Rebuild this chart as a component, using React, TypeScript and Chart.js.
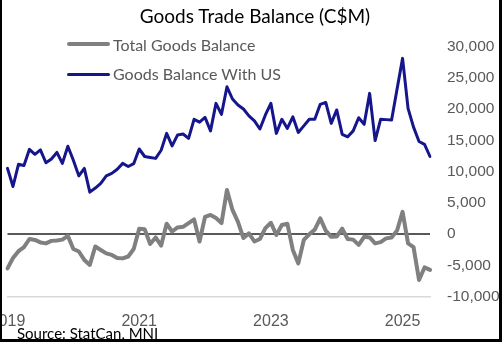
import React, { useEffect, useRef } from 'react';
import { Chart, registerables } from 'chart.js';

Chart.register(...registerables);

// Monthly data, Jan 2019 – Jun 2025 (C$ millions)
const START_YEAR = 2019;
const MONTH_COUNT = 78;

const totalGoodsBalance = [
  -5500, -3850, -2750, -2100, -800, -950, -1350, -1500, -1100, -1050, -900, -300,
  -2400, -2800, -4150, -4950, -2000, -2550, -3100, -3350, -3850, -3900, -3600, -2400,
  850, 750, -1600, -550, -1850, 1650, 400, 1050, 1150, 1750, 2350, -1200,
  2750, 3050, 2550, 1750, 7050, 3850, 1950, -650, 100, -1200, -800, 950,
  1800, -150, 1450, 1650, -2550, -4700, -950, -50, 700, 2500, 550, -450,
  -400, 850, -800, -900, -1750, -450, -550, -1500, -1300, -700, -550, 550,
  3550, -1500, -2100, -7350, -5350, -5750,
];

const goodsBalanceWithUS = [
  10500, 7600, 11150, 10950, 13550, 12750, 13450, 11400, 12000, 13050, 11300, 14050,
  11800, 9300, 10500, 6700, 7350, 8100, 9300, 9700, 10350, 11300, 10800, 11250,
  13600, 12400, 12250, 12100, 13400, 16100, 14100, 15850, 16000, 15300, 18350, 17900,
  18650, 16500, 20900, 19150, 23550, 21600, 20650, 20000, 18900, 18100, 16800, 19050,
  20900, 16100, 18350, 16900, 18750, 16250, 17300, 18350, 18350, 20750, 21050, 17700,
  19850, 15950, 15550, 16500, 18600, 17550, 22500, 14950, 18350, 18300, 18250, 23200,
  28100, 20100, 17100, 14800, 14350, 12400,
];

const monthLabels = Array.from({ length: MONTH_COUNT }, (_, i) =>
  `${START_YEAR + Math.floor(i / 12)}-${String((i % 12) + 1).padStart(2, '0')}`
);
const yearTickEvery = 24; // show a year label every two years (January)

const Y_MIN = -10000;
const Y_MAX = 30000;
const Y_STEP = 5000;

const TITLE = 'Goods Trade Balance (C$M)';
const SERIES_NAMES = ['Total Goods Balance', 'Goods Balance With US'];
const SOURCE = 'Source: StatCan, MNI';

const GRAY = '#808080';
const NAVY = '#16168C';
const TEXT_GRAY = '#595959';
const UI_FONT = 'Lato, "Open Sans", sans-serif';

export default function App() {
  const canvasRef = useRef<HTMLCanvasElement | null>(null);

  useEffect(() => {
    document.body.style.margin = '0';
    const canvas = canvasRef.current;
    if (!canvas) return;
    const chart = new Chart(canvas, {
      type: 'line',
      data: {
        labels: monthLabels,
        datasets: [
          {
            label: SERIES_NAMES[0],
            data: totalGoodsBalance,
            borderColor: GRAY,
            borderWidth: 4,
            pointRadius: 0,
            tension: 0,
            borderJoinStyle: 'round',
            borderCapStyle: 'round',
          },
          {
            label: SERIES_NAMES[1],
            data: goodsBalanceWithUS,
            borderColor: NAVY,
            borderWidth: 3,
            pointRadius: 0,
            tension: 0,
            borderJoinStyle: 'round',
            borderCapStyle: 'round',
          },
        ],
      },
      options: {
        animation: false,
        responsive: false,
        maintainAspectRatio: false,
        layout: { padding: { left: 47.5, right: 0, top: 46.5, bottom: 0 } },
        plugins: {
          legend: { display: false },
          title: { display: false },
          tooltip: { enabled: false },
        },
        scales: {
          x: {
            type: 'category',
            offset: false,
            grid: { display: true, color: 'transparent', drawTicks: false },
            border: { display: true, color: '#D9D9D9', width: 1.5 },
            ticks: {
              autoSkip: false,
              maxRotation: 0,
              minRotation: 0,
              padding: 15,
              color: TEXT_GRAY,
              font: { family: '"Liberation Sans", Arial, sans-serif', size: 16 },
              callback: (_v: any, idx: number) =>
                idx % yearTickEvery === 0 ? monthLabels[idx].slice(0, 4) : '',
            },
            afterFit: (s: any) => {
              s.height = 45.5;
            },
          },
          y: {
            position: 'right',
            min: Y_MIN,
            max: Y_MAX,
            grid: {
              drawTicks: false,
              lineWidth: 2,
              color: (ctx: any) => (ctx.tick && ctx.tick.value === 0 ? TEXT_GRAY : 'transparent'),
            },
            border: { display: false },
            ticks: {
              stepSize: Y_STEP,
              padding: 17,
              color: TEXT_GRAY,
              font: { family: '"Liberation Sans", Arial, sans-serif', size: 15.5 },
              callback: (v: any) => Number(v).toLocaleString('en-US'),
            },
            afterFit: (s: any) => {
              s.width = 72;
            },
          },
        },
      },
    });
    return () => chart.destroy();
  }, []);

  const legendText: React.CSSProperties = {
    position: 'absolute',
    left: 113,
    fontFamily: UI_FONT,
    fontSize: 16,
    lineHeight: '20px',
    color: TEXT_GRAY,
    whiteSpace: 'nowrap',
  };

  return (
    <div
      style={{
        position: 'relative',
        width: 502,
        height: 342,
        overflow: 'hidden',
        background: '#fff',
      }}
    >
      <div style={{ position: 'absolute', left: -40, top: 0, width: 542, height: 342 }}>
        <canvas ref={canvasRef} width={542} height={342} style={{ display: 'block' }} />
      </div>
      <div
        style={{
          position: 'absolute',
          left: 0,
          width: 510,
          top: 4,
          textAlign: 'center',
          fontFamily: UI_FONT,
          fontSize: 19,
          lineHeight: '24px',
          color: '#000',
          whiteSpace: 'nowrap',
        }}
      >
        {TITLE}
      </div>
      <div style={{ position: 'absolute', left: 67, top: 42, width: 43, height: 4, borderRadius: 2, background: GRAY }} />
      <div style={{ ...legendText, top: 35 }}>{SERIES_NAMES[0]}</div>
      <div style={{ position: 'absolute', left: 67, top: 72.5, width: 43, height: 3, borderRadius: 1.5, background: NAVY }} />
      <div style={{ ...legendText, top: 64 }}>{SERIES_NAMES[1]}</div>
      <div
        style={{
          position: 'absolute',
          left: 17,
          top: 323,
          fontFamily: UI_FONT,
          fontSize: 15,
          lineHeight: '20px',
          color: '#000',
          whiteSpace: 'nowrap',
        }}
      >
        {SOURCE}
      </div>
      <div
        style={{
          position: 'absolute',
          inset: 0,
          boxSizing: 'border-box',
          borderLeft: '2px solid #000',
          borderRight: '3px solid #000',
          borderBottom: '3px solid #000',
          pointerEvents: 'none',
        }}
      />
    </div>
  );
}
